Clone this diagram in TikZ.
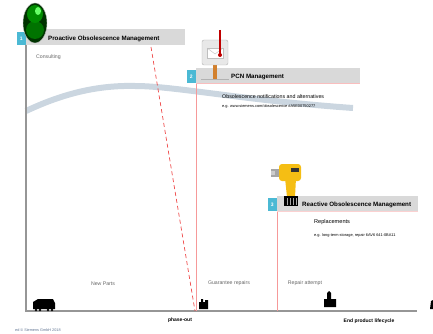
\documentclass[tikz,border=0pt]{standalone}
\usepackage{fontspec}
\setmainfont{Liberation Sans}
\usetikzlibrary{positioning}

\definecolor{headgray}{RGB}{217,217,217}
\definecolor{numcyan}{RGB}{75,185,212}
\definecolor{curveblue}{RGB}{203,214,224}
\definecolor{axisgray}{RGB}{150,150,150}
\definecolor{phasered}{RGB}{238,70,70}
\definecolor{drillyellow}{RGB}{245,190,20}
\definecolor{footblue}{RGB}{95,115,145}

\begin{document}
\begin{tikzpicture}[
        x = 1pt, y = -1pt,
        header/.style = {fill = headgray, minimum height = 15pt, inner sep = 0pt, anchor = north west},
        numbox/.style = {fill = numcyan, text = white, minimum width = 9pt, minimum height = 13pt,
                         inner sep = 0pt, anchor = south east, font = \fontsize{5}{5}\selectfont\bfseries},
        title/.style = {font = \fontsize{6.2}{7}\selectfont\bfseries, inner sep = 0pt},
        label/.style = {font = \fontsize{5.2}{6}\selectfont, text = black!60, inner sep = 0pt},
        info/.style = {font = \fontsize{5.3}{6}\selectfont, inner sep = 0pt, anchor = west},
        detail/.style = {font = \fontsize{3.9}{4.5}\selectfont, inner sep = 0pt, anchor = west},
        phaseline/.style = {phasered!55, line width = 0.8pt},
        axis/.style = {axisgray, line width = 1.1pt}
    ]

    \useasboundingbox (0,0) rectangle (433,334);

    % availability curve
    \draw[curveblue, line width = 6pt]
        (26,111) .. controls (60,95) and (95,85) .. (135,86)
                 .. controls (175,86) and (240,100) .. (353,108);

    % axes
    \coordinate (top) at (26,44);
    \coordinate (origin) at (26,311);
    \coordinate (xend) at (417,311);
    \draw[axis] (top) -- (origin) -- (xend);

    % phase-out
    \coordinate (po top) at (151,47);
    \coordinate (po) at (195,311);
    \draw[phasered, line width = 0.7pt, dash pattern = on 4pt off 3pt] (po top) -- (po);

    % section headers
    \node[header, minimum width = 159pt, minimum height = 16pt] (bar1) at (26,29) {};
    \node[numbox] (n1) at (bar1.south west) {1};
    \node[header, minimum width = 164pt] (bar2) at (196,68) {};
    \node[numbox] (n2) at (bar2.south west) {2};
    \node[header, minimum width = 141pt] (bar3) at (277,196) {};
    \node[numbox] (n3) at (bar3.south west) {3};

    \draw[phaseline] (bar2.south west) -- (bar2.south west |- origin);
    \draw[phaseline] (bar3.south west) -- (bar3.south west |- origin);
    \draw[phasered!35, line width = 0.5pt] (bar2.south west) -- (bar2.south east);
    \draw[phasered!25, line width = 0.5pt] (bar3.south west) -- (bar3.south east);

    % globe
    \fill[black!80!green, draw = gray!50] (35,23) ellipse [x radius = 12pt, y radius = 20pt];
    \fill[black!55!green] (35,30) ellipse [x radius = 9pt, y radius = 9pt];
    \fill[green!55!black] (35,14) ellipse [x radius = 8pt, y radius = 9pt];
    \fill[green!60!white] (38,11) ellipse [x radius = 3pt, y radius = 4pt];

    % mailbox
    \fill[brown!70!orange] (213,64) rectangle (217,80);
    \draw[gray!60, line width = 1pt] (201,80) -- (229,80);
    \draw[gray!60, fill = gray!18, rounded corners = 2pt] (202,40) rectangle (228,65);
    \draw[gray!50, fill = white] (207,48) rectangle (223,58);
    \draw[gray!50] (207,48) -- (215,54) -- (223,48);
    \draw[red!75!black, line width = 1.3pt] (220,30) -- (220,54);
    \fill[red!75!black] (220,55) circle (2pt);

    % drill
    \fill[gray!70] (271,169) rectangle (280,177);
    \fill[gray!40] (271,171) rectangle (275,175);
    \fill[drillyellow] (285,178) -- (296,178) -- (295,197) -- (287,197) -- cycle;
    \fill[drillyellow, rounded corners = 3pt] (279,164) rectangle (301,181);
    \fill[black!80] (291,168) rectangle (299,172);
    \fill[black] (284,196) rectangle (298,206);
    \foreach \x in {287,290,293,296}
        \draw[gray!70, line width = 0.4pt] (\x,198) -- (\x,205);

    % locomotives
    \fill (33,309) -- (33,302) -- (38,299) -- (53,299) -- (55,303) -- (55,309) -- cycle;
    \foreach \x in {36,40,48,52}
        \fill (\x,310) circle (1.3pt);
    \fill (199,309) -- (199,302) -- (201,302) -- (201,299) -- (203,299) -- (203,302)
          -- (205,302) -- (205,300) -- (208,300) -- (208,309) -- cycle;
    \fill (324,307) -- (324,299) -- (327,299) -- (327,293) -- (329,291) -- (331,293)
          -- (331,299) -- (336,299) -- (336,307) -- cycle;
    \fill (430,309) -- (431,301) -- (433,300) -- (433,309) -- cycle;

    % titles and texts
    \node[title, anchor = west, right = 22pt of n1] (t1) {Proactive Obsolescence Management};
    \node[title, anchor = west, right = 35pt of n2] (t2) {PCN Management};
    \node[title, anchor = west, right = 25pt of n3] (t3) {Reactive Obsolescence Management};

    \node[label, anchor = west] (consult) at (36,57) {Consulting};
    \node[info] (pcn1) at (222,97) {Obsolescence notifications and alternatives};
    \node[detail] (pcn2) at (222,106) {e.g. www.siemens.com/obsolescence \#A5E00750277};
    \node[info, font = \fontsize{5.6}{6}\selectfont] (repl1) at (314,222) {Replacements};
    \node[detail] (repl2) at (314,235) {e.g. long-term storage, repair 6AV6 641-0BA11};

    \node[label] (newparts) at (103,284) {New Parts};
    \node[label] (repairs) at (229,283) {Guarantee repairs};
    \node[label] (attempt) at (305,283) {Repair attempt};

    \node[title, font = \fontsize{5}{6}\selectfont\bfseries] (phaseout) at (180,320) {phase-out};
    \node[title, font = \fontsize{5}{6}\selectfont\bfseries] (eol) at (369,321) {End product lifecycle};
    \node[inner sep = 0pt, text = footblue, font = \fontsize{3.8}{4}\selectfont, anchor = west]
        (footer) at (15,330) {ed \textcopyright\ Siemens GmbH 2018};

\end{tikzpicture}
\end{document}
